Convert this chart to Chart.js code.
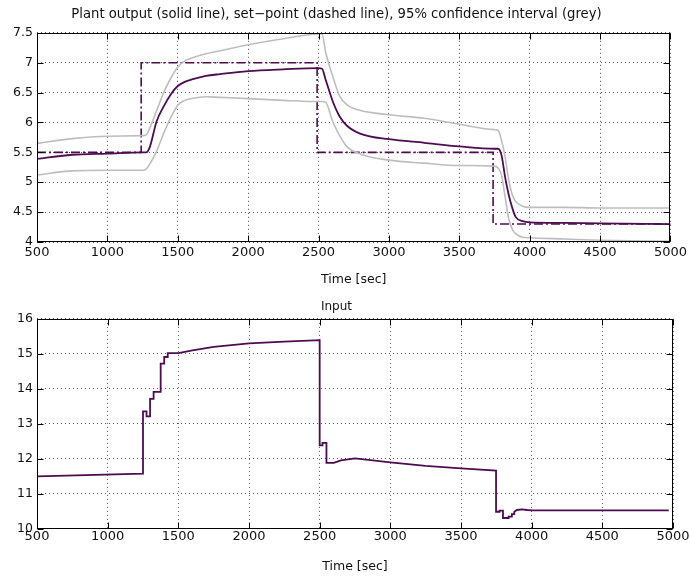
<!DOCTYPE html>
<html>
<head>
<meta charset="utf-8">
<script src="https://cdn.jsdelivr.net/npm/chart.js@4.4.1/dist/chart.umd.min.js"></script>
<style>
  html, body { margin: 0; padding: 0; background: #fff; }
  .panel { position: absolute; left: 0; width: 690px; }
  #top-panel { top: 0; height: 290px; }
  #bottom-panel { top: 290px; height: 292px; }
</style>
</head>
<body>
<div class="panel" id="top-panel"><canvas id="output-chart"></canvas></div>
<div class="panel" id="bottom-panel"><canvas id="input-chart"></canvas></div>
<script>
// ── Data ────────────────────────────────────────────────
const outTime = [500, 750, 1000, 1250, 1275, 1300, 1350, 1400, 1450, 1500, 1550, 1600, 1700, 1800,
  2000, 2250, 2500, 2525, 2550, 2600, 2650, 2700, 2800, 3000, 3250, 3500, 3750, 3775, 3800,
  3825, 3850, 3875, 3900, 3950, 4000, 4250, 4500, 5000];
const plantOutput = [5.39, 5.46, 5.48, 5.50, 5.50, 5.58, 6.02, 6.27, 6.47, 6.61, 6.68, 6.72, 6.78, 6.81,
  6.86, 6.89, 6.91, 6.90, 6.72, 6.36, 6.10, 5.95, 5.81, 5.72, 5.66, 5.60, 5.56, 5.56, 5.45,
  5.09, 4.80, 4.58, 4.42, 4.35, 4.33, 4.32, 4.31, 4.30];
const ciUpper = [5.65, 5.73, 5.77, 5.78, 5.79, 5.90, 6.20, 6.50, 6.74, 6.93, 7.03, 7.08, 7.15, 7.20,
  7.30, 7.40, 7.48, 7.48, 7.18, 6.78, 6.44, 6.30, 6.20, 6.13, 6.07, 5.97, 5.88, 5.87, 5.70,
  5.43, 5.05, 4.80, 4.68, 4.60, 4.58, 4.58, 4.57, 4.57];
const ciLower = [5.12, 5.19, 5.20, 5.20, 5.22, 5.30, 5.52, 5.82, 6.08, 6.29, 6.37, 6.40, 6.43, 6.42,
  6.40, 6.37, 6.35, 6.35, 6.34, 6.02, 5.78, 5.60, 5.47, 5.37, 5.32, 5.28, 5.27, 5.24, 5.12,
  4.76, 4.40, 4.22, 4.14, 4.08, 4.07, 4.05, 4.03, 4.01];

const setTime = [500, 1240, 1240, 2490, 2490, 3740, 3740, 5000];
const setPoint = [5.5, 5.5, 7.0, 7.0, 5.5, 5.5, 4.3, 4.3];

const inTime = [500, 1250, 1250, 1275, 1275, 1300, 1300, 1325, 1325, 1375, 1375, 1400, 1400, 1425, 1425,
  1500, 1600, 1750, 2000, 2250, 2500, 2500, 2520, 2520, 2548, 2548, 2600, 2650, 2750, 3000, 3250,
  3500, 3748, 3748, 3773, 3773, 3797, 3797, 3837, 3837, 3860, 3860, 3877, 3877, 3896, 3931, 3967,
  4000, 4500, 4970];
const inValue = [11.49, 11.57, 13.35, 13.35, 13.21, 13.21, 13.71, 13.71, 13.91, 13.91, 14.72, 14.72, 14.91, 14.91, 15.02,
  15.02, 15.10, 15.20, 15.30, 15.35, 15.39, 12.38, 12.38, 12.45, 12.45, 11.88, 11.88, 11.95, 12.01, 11.89, 11.79,
  11.72, 11.66, 10.48, 10.48, 10.51, 10.51, 10.30, 10.30, 10.34, 10.34, 10.41, 10.41, 10.48, 10.53, 10.55, 10.53,
  10.52, 10.52, 10.52];

const timeTicks = [500, 1000, 1500, 2000, 2500, 3000, 3500, 4000, 4500, 5000];
const outputTicks = [4, 4.5, 5, 5.5, 6, 6.5, 7, 7.5];
const inputTicks = [10, 11, 12, 13, 14, 15, 16];

// ── Styling ─────────────────────────────────────────────
const PURPLE = '#4d0c4f';
const GREY = '#bdbdbd';

Chart.defaults.font.family = "'DejaVu Sans', 'Liberation Sans', Arial, sans-serif";
Chart.defaults.color = '#111';
Chart.defaults.devicePixelRatio = 1;

const pts = (xs, ys) => xs.map((x, i) => ({ x, y: ys[i] }));

// box round the axes with inward ticks, matlab style
const framePlugin = {
  id: 'frame',
  afterDatasetsDraw(chart) {
    const { ctx, chartArea: a, scales: { x, y } } = chart;
    const L = Math.round(a.left) + 0.5, R = Math.round(a.right) - 0.5;
    const T = Math.round(a.top) + 0.5, B = Math.round(a.bottom) - 0.5;
    const len = 6;
    ctx.save();
    ctx.strokeStyle = '#000';
    ctx.lineWidth = 1;
    ctx.strokeRect(L, T, R - L, B - T);
    ctx.beginPath();
    x.ticks.forEach(t => {
      const px = Math.round(x.getPixelForValue(t.value)) + 0.5;
      ctx.moveTo(px, B); ctx.lineTo(px, B - len);
      ctx.moveTo(px, T); ctx.lineTo(px, T + len);
    });
    y.ticks.forEach(t => {
      const py = Math.round(y.getPixelForValue(t.value)) + 0.5;
      ctx.moveTo(L, py); ctx.lineTo(L + len, py);
      ctx.moveTo(R, py); ctx.lineTo(R - len, py);
    });
    ctx.stroke();
    ctx.restore();
  }
};

function makeOptions(cfg) {
  return {
    responsive: true,
    maintainAspectRatio: false,
    animation: false,
    layout: { padding: { left: 0, right: 17, top: 0, bottom: 0 } },
    plugins: {
      legend: { display: false },
      tooltip: { enabled: false },
      title: {
        display: true,
        text: cfg.title,
        color: '#111',
        font: { size: cfg.titleSize, weight: 'normal' },
        padding: cfg.titlePad
      }
    },
    elements: { point: { radius: 0 } },
    scales: {
      x: {
        type: 'linear',
        min: 500,
        max: 5000,
        afterBuildTicks: s => { s.ticks = timeTicks.map(v => ({ value: v })); },
        afterFit: s => { s.height = cfg.xHeight; },
        grid: { color: '#555', drawTicks: false },
        border: { display: false, dash: [1, 3] },
        ticks: {
          font: { size: 13 },
          padding: cfg.xTickPad,
          maxRotation: 0,
          autoSkip: false,
          callback: v => String(v)
        },
        title: {
          display: true,
          text: 'Time [sec]',
          font: { size: 12.5 },
          padding: { top: 0, bottom: cfg.xTitlePad }
        }
      },
      y: {
        type: 'linear',
        min: cfg.yMin,
        max: cfg.yMax,
        afterBuildTicks: s => { s.ticks = cfg.yTicks.map(v => ({ value: v })); },
        afterFit: s => { s.width = 37; },
        grid: { color: '#555', drawTicks: false },
        border: { display: false, dash: [1, 3] },
        ticks: {
          font: { size: 12.5 },
          padding: 4,
          autoSkip: false,
          callback: v => String(v)
        }
      }
    }
  };
}

new Chart(document.getElementById('output-chart'), {
  type: 'line',
  data: {
    datasets: [
      {
        label: 'Upper 95%',
        data: pts(outTime, ciUpper),
        borderColor: GREY,
        borderWidth: 1.6,
        cubicInterpolationMode: 'monotone'
      },
      {
        label: 'Lower 95%',
        data: pts(outTime, ciLower),
        borderColor: GREY,
        borderWidth: 1.6,
        cubicInterpolationMode: 'monotone'
      },
      {
        label: 'Set-point',
        data: pts(setTime, setPoint),
        borderColor: PURPLE,
        borderWidth: 1.6,
        borderDash: [9, 3, 2, 3],
        tension: 0
      },
      {
        label: 'Plant output',
        data: pts(outTime, plantOutput),
        borderColor: PURPLE,
        borderWidth: 1.8,
        cubicInterpolationMode: 'monotone'
      }
    ]
  },
  options: makeOptions({
    title: 'Plant output (solid line), set\u2212point (dashed line), 95% confidence interval (grey)',
    titleSize: 13.2,
    titlePad: { top: 7, bottom: 10 },
    xHeight: 48,
    xTickPad: 3,
    xTitlePad: 3,
    yMin: 4,
    yMax: 7.5,
    yTicks: outputTicks
  }),
  plugins: [framePlugin]
});

new Chart(document.getElementById('input-chart'), {
  type: 'line',
  data: {
    datasets: [{
      label: 'Input',
      data: pts(inTime, inValue),
      borderColor: PURPLE,
      borderWidth: 1.8,
      tension: 0
    }]
  },
  options: makeOptions({
    title: 'Input',
    titleSize: 12,
    titlePad: { top: 9.5, bottom: 5 },
    xHeight: 53.5,
    xTickPad: 0,
    xTitlePad: 8,
    yMin: 10,
    yMax: 16,
    yTicks: inputTicks
  }),
  plugins: [framePlugin]
});
</script>
</body>
</html>
